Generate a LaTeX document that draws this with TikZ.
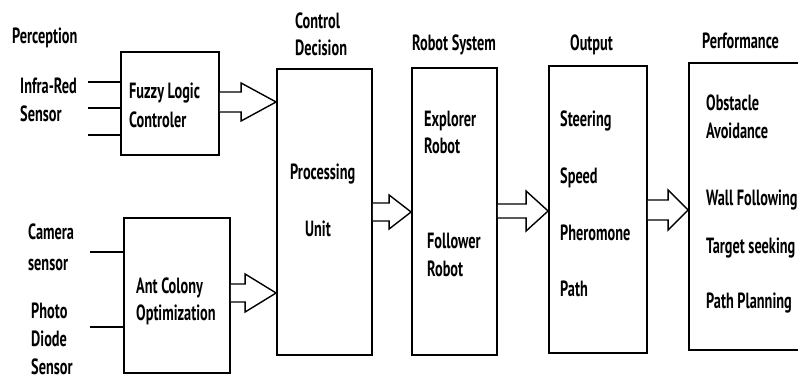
\documentclass[tikz,border=0pt]{standalone}
\usepackage{fontspec}
\setmainfont{PT Sans}[FakeStretch=0.65]
\usetikzlibrary{calc}
\tikzset{
  box/.style={draw, line width=1.8pt, rectangle, inner sep=0pt},
  lbl/.style={anchor=base west, inner sep=0pt, font=\fontsize{22}{25}\selectfont\bfseries},
  wire/.style={line width=2.2pt},
  blockarrow/.style={draw, line width=1.4pt, fill=white, line join=miter},
}
\newcommand\harrow[6]{%
  \path (#1.east |- 0,#3) coordinate (hs) (#2.west |- 0,#3) coordinate (ht);
  \draw[blockarrow] ($(hs)+(0,-#4)$) -- ($(ht)+(-#6,-#4)$) -- ($(ht)+(-#6,-#5)$) -- (ht)
    -- ($(ht)+(-#6,#5)$) -- ($(ht)+(-#6,#4)$) -- ($(hs)+(0,#4)$);}
\begin{document}
\begin{tikzpicture}[x=1pt,y=-1pt]
\useasboundingbox (0,0) rectangle (798,379);
\clip (0,0) rectangle (798,379);
% boxes
\node[box, minimum width=98pt, minimum height=103pt] (fz) at (170,103.5) {};
\node[box, minimum width=106pt, minimum height=155pt] (aco) at (177,295.5) {};
\node[box, minimum width=95pt, minimum height=286pt] (pu) at (324.5,212) {};
\node[box, minimum width=85pt, minimum height=287pt] (rs) at (454.5,211.5) {};
\node[box, minimum width=98pt, minimum height=287pt] (out) at (598,209.5) {};
\node[box, minimum width=140pt, minimum height=287pt] (perf) at (759,206.5) {};
% input wires
\coordinate (i1) at (88,82);
\coordinate (i2) at (88,108);
\coordinate (i3) at (88,135);
\coordinate (i4) at (90,252);
\coordinate (i5) at (90,327);
\draw[wire] (i1) -- (i1 -| fz.west);
\draw[wire] (i2) -- (i2 -| fz.west);
\draw[wire] (i3) -- (i3 -| fz.west);
\draw[wire] (i4) -- (i4 -| aco.west);
\draw[wire] (i5) -- (i5 -| aco.west);
% block arrows
\harrow{fz}{pu}{102}{10}{19}{35}
\harrow{aco}{pu}{293}{9}{19}{31}
\harrow{pu}{rs}{212}{9}{17}{22}
\harrow{rs}{out}{211}{7}{20}{22}
\harrow{out}{perf}{210}{10}{20}{20}
% labels
\node[lbl] (tPer) at (12,44) {Perception};
\node[lbl] (tIR1) at (20,94) {Infra-Red};
\node[lbl] (tIR2) at (20,122) {Sensor};
\node[lbl] (tFz1) at (129,99) {Fuzzy Logic};
\node[lbl] (tFz2) at (129,128) {Controler};
\node[lbl] (tCa1) at (28,240) {Camera};
\node[lbl] (tCa2) at (28,271) {sensor};
\node[lbl] (tPh1) at (31,319) {Photo};
\node[lbl] (tPh2) at (31,347) {Diode};
\node[lbl] (tPh3) at (31,374) {Sensor};
\node[lbl] (tAc1) at (136,294) {Ant Colony};
\node[lbl] (tAc2) at (136,321) {Optimization};
\node[lbl] (tCd1) at (295,29) {Control};
\node[lbl] (tCd2) at (295,56) {Decision};
\node[lbl] (tRs) at (412,51) {Robot System};
\node[lbl] (tPu1) at (290,180) {Processing};
\node[lbl] (tPu2) at (305,237) {Unit};
\node[lbl] (tEx1) at (424,127) {Explorer};
\node[lbl] (tEx2) at (424,154) {Robot};
\node[lbl] (tFo1) at (427,249) {Follower};
\node[lbl] (tFo2) at (427,277) {Robot};
\node[lbl] (tOut) at (570,51) {Output};
\node[lbl] (tPf) at (702,49) {Performance};
\node[lbl] (tSt) at (560,127) {Steering};
\node[lbl] (tSp) at (560,184) {Speed};
\node[lbl] (tPm) at (560,241) {Pheromone};
\node[lbl] (tPa) at (560,297) {Path};
\node[lbl] (tOb1) at (706,111) {Obstacle};
\node[lbl] (tOb2) at (706,139) {Avoidance};
\node[lbl] (tWf) at (706,206) {Wall Following};
\node[lbl] (tTs) at (706,254) {Target seeking};
\node[lbl] (tPp) at (706,309) {Path Planning};
\end{tikzpicture}
\end{document}
